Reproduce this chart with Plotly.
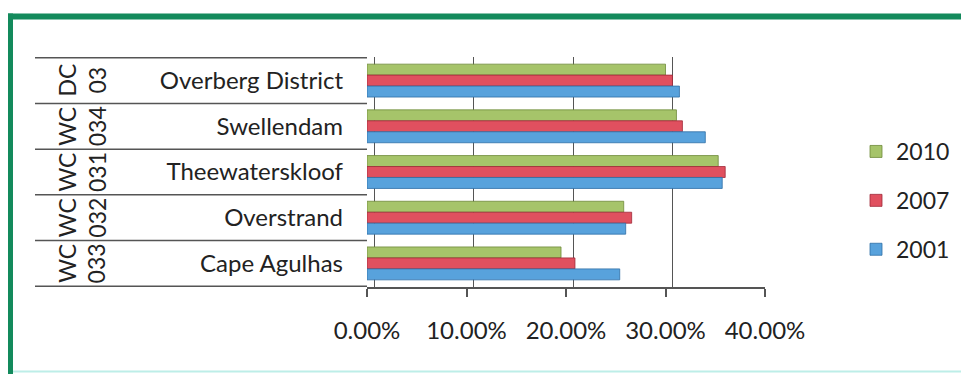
import plotly.graph_objects as go

# ---- data ----
municipalities = ["Overberg District", "Swellendam", "Theewaterskloof", "Overstrand", "Cape Agulhas"]
codes = ["DC 03", "WC 034", "WC 031", "WC 032", "WC 033"]
years = ["2010", "2007", "2001"]
values_2010 = [0.300, 0.311, 0.353, 0.258, 0.195]
values_2007 = [0.307, 0.317, 0.360, 0.266, 0.209]
values_2001 = [0.314, 0.340, 0.357, 0.260, 0.254]
x_ticks = [0.0, 0.1, 0.2, 0.3, 0.4]
x_tick_labels = ["0.00%", "10.00%", "20.00%", "30.00%", "40.00%"]

colors = {"2010": "#a6c46a", "2007": "#e0505f", "2001": "#58a2dc"}
edges = {"2010": "#6f8a3a", "2007": "#a02838", "2001": "#2f6ea6"}
series = {"2010": values_2010, "2007": values_2007, "2001": values_2001}

W, H = 961, 374
L, R, T, B = 367, 765, 57, 287  # plot area in pixels
FONT = "Lato"


def px2x(px):
    return (px - L) / (R - L)


def py2y(py):
    return (B - py) / (B - T)


fig = go.Figure()
for yr in years:
    fig.add_trace(go.Bar(
        y=municipalities, x=series[yr], orientation="h", name=yr,
        marker=dict(color=colors[yr], line=dict(color=edges[yr], width=0.8)),
        legendgroup=yr,
    ))

# invisible trace to carry the back-wall grid axis
fig.add_trace(go.Scatter(x=[0], y=[municipalities[0]], xaxis="x2", mode="markers",
                         marker=dict(opacity=0), showlegend=False, hoverinfo="skip"))

shapes = []
# row separator lines in label area
n = len(municipalities)
for i in range(n + 1):
    shapes.append(dict(type="line", xref="paper", yref="y", x0=px2x(35), x1=0,
                       y0=i - 0.5, y1=i - 0.5, line=dict(color="#555555", width=1.5)))
# green frame
frame_col = "#138a5c"
shapes.append(dict(type="rect", xref="paper", yref="paper", x0=px2x(8), x1=px2x(965),
                   y0=py2y(19.5), y1=py2y(13.5), line=dict(width=0), fillcolor=frame_col, layer="above"))
shapes.append(dict(type="rect", xref="paper", yref="paper", x0=px2x(8), x1=px2x(13),
                   y0=py2y(380), y1=py2y(13.5), line=dict(width=0), fillcolor=frame_col, layer="above"))
shapes.append(dict(type="line", xref="paper", yref="paper", x0=px2x(13), x1=px2x(965),
                   y0=py2y(371.5), y1=py2y(371.5), line=dict(color="#bdeee8", width=2)))

annotations = []
for i, c in enumerate(codes):
    annotations.append(dict(
        xref="paper", yref="y", x=px2x(82), y=municipalities[i],
        text="<br>".join(c.split(" ")), textangle=-90, showarrow=False,
        font=dict(family=FONT, size=23, color="#222222"), xanchor="center", yanchor="middle",
    ))

shift = 7 / (R - L) * (x_ticks[-1] - x_ticks[0])
fig.update_layout(
    width=W, height=H,
    margin=dict(l=L, r=W - R, t=T, b=H - B, autoexpand=False),
    paper_bgcolor="white", plot_bgcolor="white",
    barmode="group", bargap=0.28, bargroupgap=0,
    font=dict(family=FONT, size=24, color="#222222"),
    xaxis=dict(range=[x_ticks[0], x_ticks[-1]], tickvals=x_ticks, ticktext=x_tick_labels,
               showgrid=False, zeroline=False, showline=True, linecolor="#555555", linewidth=1.5,
               ticks="outside", ticklen=8, tickcolor="#555555", tickwidth=1.5,
               ticklabelstandoff=13, tickfont=dict(size=24)),
    xaxis2=dict(overlaying="x", range=[x_ticks[0] - shift, x_ticks[-1] - shift], tickvals=x_ticks,
                showgrid=True, gridcolor="#555555", gridwidth=1.3, showticklabels=False,
                zeroline=False, showline=False, side="bottom"),
    yaxis=dict(autorange="reversed", showgrid=False, zeroline=False, showline=False,
               ticks="", ticklabelstandoff=23, tickfont=dict(size=24)),
    legend=dict(x=px2x(856), xanchor="left", y=py2y(130), yanchor="top",
                font=dict(size=23), tracegroupgap=16, bgcolor="rgba(0,0,0,0)"),
    shapes=shapes, annotations=annotations,
)

fig.write_html("out.html")
